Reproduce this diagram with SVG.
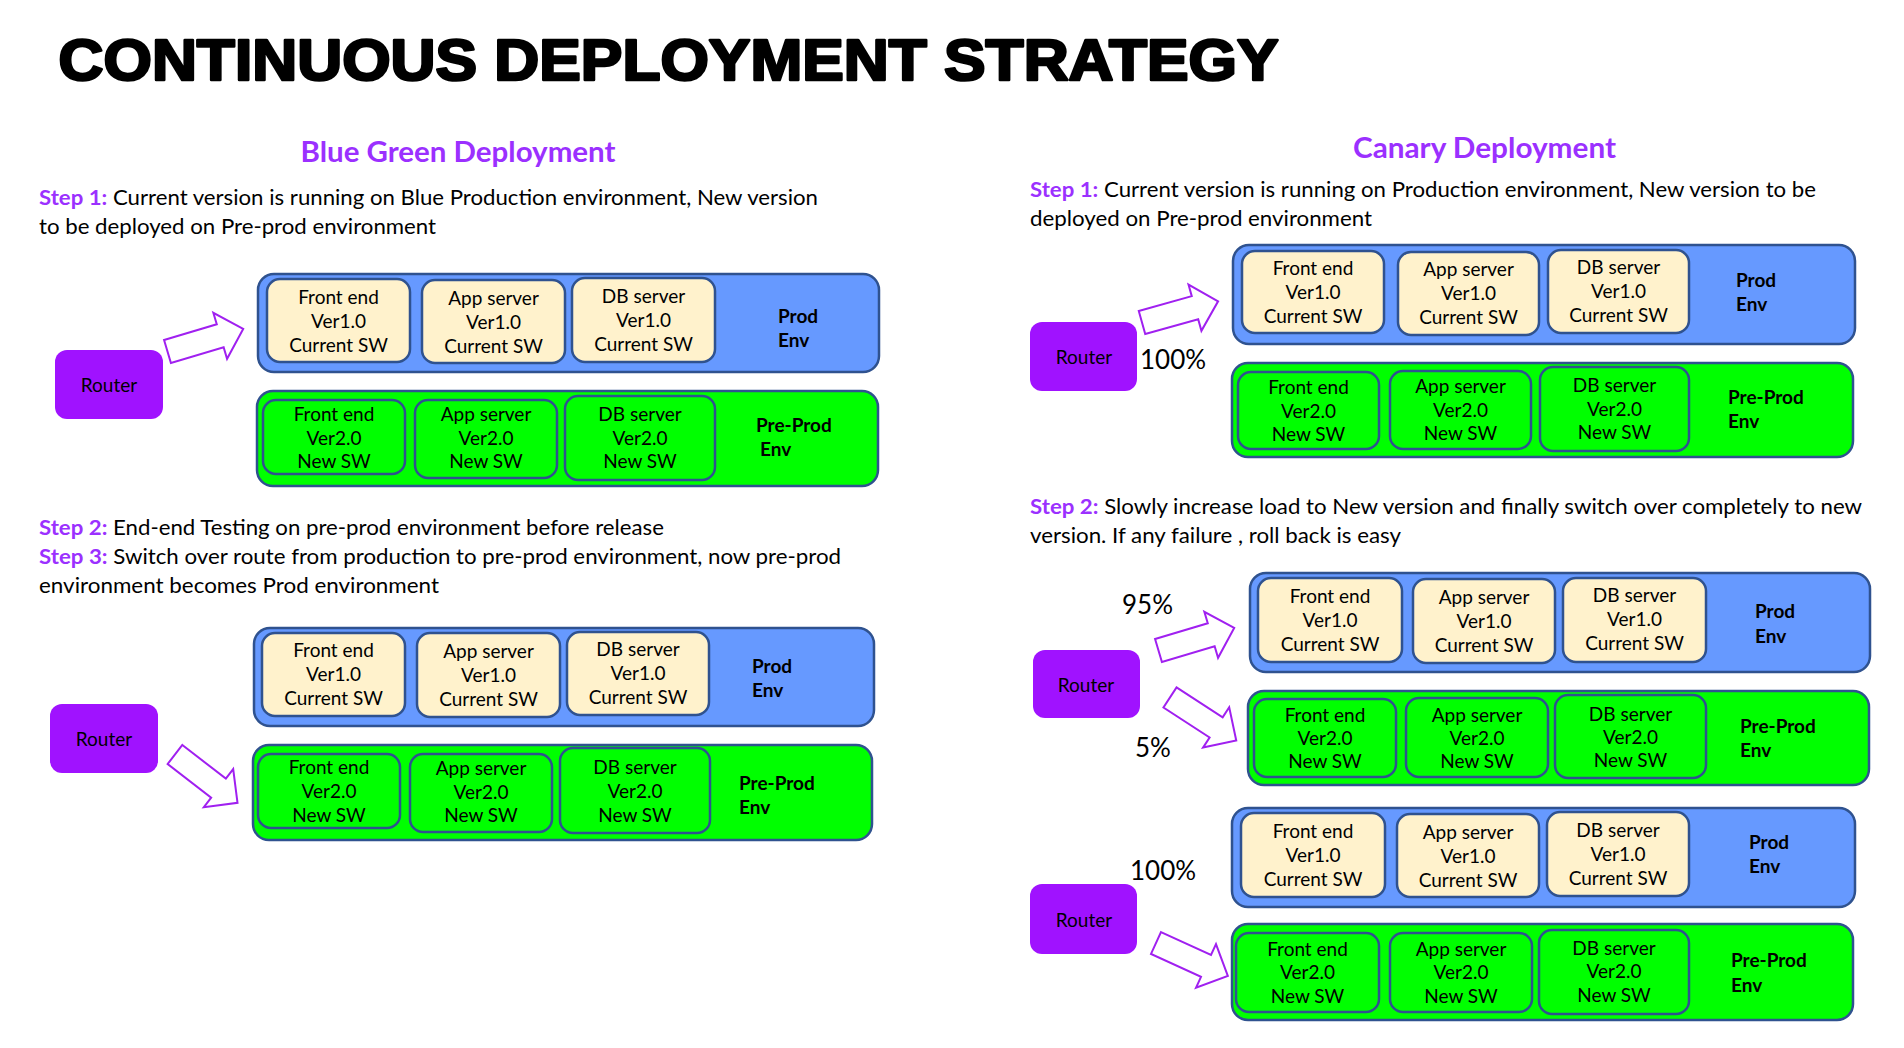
<svg xmlns="http://www.w3.org/2000/svg" xmlns:xlink="http://www.w3.org/1999/xlink" width="1904" height="1048" viewBox="0 0 1904 1048">
<style>
.env-b{fill:#6699FF;stroke:#2F528F;stroke-width:2.5}
.env-g{fill:#00FF00;stroke:#2F528F;stroke-width:2.5}
.sub-y{fill:#FFF2CC;stroke:#2F528F;stroke-width:2.5}
.sub-g{fill:#00FF00;stroke:#2F528F;stroke-width:2.5}
.router{fill:#A012FF}
.t{font-family:Lato,"Liberation Sans",sans-serif;font-size:19px;fill:#000;text-anchor:middle}
.lbl{font-family:Lato,"Liberation Sans",sans-serif;font-size:19px;font-weight:bold;fill:#000}
.body{font-family:Lato,"Liberation Sans",sans-serif;font-size:21px;fill:#000}
.step{fill:#9B30FF;font-weight:bold}
.head{font-family:Lato,"Liberation Sans",sans-serif;font-size:28px;font-weight:bold;fill:#9B30FF;text-anchor:middle}
.pct{font-family:Lato,"Liberation Sans",sans-serif;font-size:26px;fill:#000}
.arrow{fill:#FFFFFF;stroke:#A020F0;stroke-width:2;stroke-linejoin:miter}
.title{font-family:"Liberation Sans",Arial,sans-serif;font-size:58px;font-weight:bold;fill:#000;stroke:#000;stroke-width:2.6;stroke-linejoin:round}
</style>
<defs>
<path id="arrow" d="M0,-12 H55 V-24 L79,0 L55,24 V12 H0 Z"/>
</defs>
<rect width="1904" height="1048" fill="#FFFFFF"/>

<text class="title" x="58.5" y="80" textLength="1220" lengthAdjust="spacingAndGlyphs">CONTINUOUS DEPLOYMENT STRATEGY</text>

<!-- Blue Green texts -->
<text class="head" x="458" y="162" textLength="315" lengthAdjust="spacingAndGlyphs">Blue Green Deployment</text>
<text class="body" x="39" y="205" textLength="779" lengthAdjust="spacingAndGlyphs"><tspan class="step">Step 1:</tspan> Current version is running on Blue Production environment, New version</text>
<text class="body" x="39" y="234" textLength="397" lengthAdjust="spacingAndGlyphs">to be deployed on Pre-prod environment</text>
<text class="body" x="39" y="535" textLength="625" lengthAdjust="spacingAndGlyphs"><tspan class="step">Step 2:</tspan> End-end Testing on pre-prod environment before release</text>
<text class="body" x="39" y="564" textLength="802" lengthAdjust="spacingAndGlyphs"><tspan class="step">Step 3:</tspan> Switch over route from production to pre-prod environment, now pre-prod</text>
<text class="body" x="39" y="593" textLength="400" lengthAdjust="spacingAndGlyphs">environment becomes Prod environment</text>

<!-- Canary texts -->
<text class="head" x="1484.5" y="158" textLength="263" lengthAdjust="spacingAndGlyphs">Canary Deployment</text>
<text class="body" x="1030" y="197" textLength="786" lengthAdjust="spacingAndGlyphs"><tspan class="step">Step 1:</tspan> Current version is running on Production environment, New version to be</text>
<text class="body" x="1030" y="226" textLength="342" lengthAdjust="spacingAndGlyphs">deployed on Pre-prod environment</text>
<text class="body" x="1030" y="514" textLength="832" lengthAdjust="spacingAndGlyphs"><tspan class="step">Step 2:</tspan> Slowly increase load to New version and finally switch over completely to new</text>
<text class="body" x="1030" y="543" textLength="371" lengthAdjust="spacingAndGlyphs">version. If any failure , roll back is easy</text>

<text class="pct" x="1140" y="369">100%</text>
<text class="pct" x="1122" y="614">95%</text>
<text class="pct" x="1135" y="757">5%</text>
<text class="pct" x="1130" y="880">100%</text>

<!-- ===== Blue Green, step 1 ===== -->
<g id="bg1-router"><rect class="router" x="55" y="350" width="108" height="69" rx="12"/><text class="t" x="109" y="392">Router</text></g>
<g id="bg1-prod">
<rect class="env-b" x="258" y="274" width="621" height="98" rx="16"/>
<text class="lbl" x="778" y="323">Prod</text><text class="lbl" x="778" y="347">Env</text>
<g id="bg1-prod-fe"><rect class="sub-y" x="267" y="279" width="143" height="83" rx="13"/><text class="t"><tspan x="338.5" y="304">Front end</tspan><tspan x="338.5" y="328">Ver1.0</tspan><tspan x="338.5" y="352">Current SW</tspan></text></g>
<g id="bg1-prod-app"><rect class="sub-y" x="422" y="280" width="143" height="83" rx="13"/><text class="t"><tspan x="493.5" y="305">App server</tspan><tspan x="493.5" y="329">Ver1.0</tspan><tspan x="493.5" y="353">Current SW</tspan></text></g>
<g id="bg1-prod-db"><rect class="sub-y" x="572" y="278" width="143" height="84" rx="13"/><text class="t"><tspan x="643.5" y="303">DB server</tspan><tspan x="643.5" y="327">Ver1.0</tspan><tspan x="643.5" y="351">Current SW</tspan></text></g>
</g>
<g id="bg1-preprod">
<rect class="env-g" x="257" y="391" width="621" height="95" rx="16"/>
<text class="lbl" x="756" y="432">Pre-Prod</text><text class="lbl" x="760" y="456">Env</text>
<g id="bg1-pre-fe"><rect class="sub-g" x="263" y="400" width="142" height="74" rx="13"/><text class="t"><tspan x="334" y="421">Front end</tspan><tspan x="334" y="445">Ver2.0</tspan><tspan x="334" y="468">New SW</tspan></text></g>
<g id="bg1-pre-app"><rect class="sub-g" x="415" y="400" width="142" height="78" rx="13"/><text class="t"><tspan x="486" y="421">App server</tspan><tspan x="486" y="445">Ver2.0</tspan><tspan x="486" y="468">New SW</tspan></text></g>
<g id="bg1-pre-db"><rect class="sub-g" x="565" y="396" width="150" height="84" rx="13"/><text class="t"><tspan x="640" y="421">DB server</tspan><tspan x="640" y="445">Ver2.0</tspan><tspan x="640" y="468">New SW</tspan></text></g>
</g>

<!-- ===== Blue Green, step 3 ===== -->
<g id="bg2-router"><rect class="router" x="50" y="704" width="108" height="69" rx="12"/><text class="t" x="104" y="746">Router</text></g>
<g id="bg2-prod">
<rect class="env-b" x="254" y="628" width="620" height="98" rx="16"/>
<text class="lbl" x="752" y="673">Prod</text><text class="lbl" x="752" y="697">Env</text>
<g id="bg2-prod-fe"><rect class="sub-y" x="262" y="633" width="143" height="83" rx="13"/><text class="t"><tspan x="333.5" y="657">Front end</tspan><tspan x="333.5" y="681">Ver1.0</tspan><tspan x="333.5" y="705">Current SW</tspan></text></g>
<g id="bg2-prod-app"><rect class="sub-y" x="417" y="633" width="143" height="84" rx="13"/><text class="t"><tspan x="488.5" y="658">App server</tspan><tspan x="488.5" y="682">Ver1.0</tspan><tspan x="488.5" y="706">Current SW</tspan></text></g>
<g id="bg2-prod-db"><rect class="sub-y" x="567" y="632" width="142" height="83" rx="13"/><text class="t"><tspan x="638" y="656">DB server</tspan><tspan x="638" y="680">Ver1.0</tspan><tspan x="638" y="704">Current SW</tspan></text></g>
</g>
<g id="bg2-preprod">
<rect class="env-g" x="253" y="745" width="619" height="95" rx="16"/>
<text class="lbl" x="739" y="790">Pre-Prod</text><text class="lbl" x="739" y="814">Env</text>
<g id="bg2-pre-fe"><rect class="sub-g" x="258" y="754" width="142" height="74" rx="13"/><text class="t"><tspan x="329" y="774">Front end</tspan><tspan x="329" y="798">Ver2.0</tspan><tspan x="329" y="822">New SW</tspan></text></g>
<g id="bg2-pre-app"><rect class="sub-g" x="410" y="754" width="142" height="78" rx="13"/><text class="t"><tspan x="481" y="775">App server</tspan><tspan x="481" y="799">Ver2.0</tspan><tspan x="481" y="822">New SW</tspan></text></g>
<g id="bg2-pre-db"><rect class="sub-g" x="560" y="748" width="150" height="85" rx="13"/><text class="t"><tspan x="635" y="774">DB server</tspan><tspan x="635" y="798">Ver2.0</tspan><tspan x="635" y="822">New SW</tspan></text></g>
</g>

<!-- ===== Canary, step 1 ===== -->
<g id="c1-router"><rect class="router" x="1030" y="322" width="107" height="69" rx="12"/><text class="t" x="1084" y="364">Router</text></g>
<g id="c1-prod">
<rect class="env-b" x="1233" y="245" width="622" height="99" rx="16"/>
<text class="lbl" x="1736" y="287">Prod</text><text class="lbl" x="1736" y="311">Env</text>
<g id="c1-prod-fe"><rect class="sub-y" x="1242" y="251" width="142" height="82" rx="13"/><text class="t"><tspan x="1313" y="275">Front end</tspan><tspan x="1313" y="299">Ver1.0</tspan><tspan x="1313" y="323">Current SW</tspan></text></g>
<g id="c1-prod-app"><rect class="sub-y" x="1398" y="252" width="141" height="83" rx="13"/><text class="t"><tspan x="1468.5" y="276">App server</tspan><tspan x="1468.5" y="300">Ver1.0</tspan><tspan x="1468.5" y="324">Current SW</tspan></text></g>
<g id="c1-prod-db"><rect class="sub-y" x="1548" y="250" width="141" height="83" rx="13"/><text class="t"><tspan x="1618.5" y="274">DB server</tspan><tspan x="1618.5" y="298">Ver1.0</tspan><tspan x="1618.5" y="322">Current SW</tspan></text></g>
</g>
<g id="c1-preprod">
<rect class="env-g" x="1232" y="363" width="621" height="94" rx="16"/>
<text class="lbl" x="1728" y="404">Pre-Prod</text><text class="lbl" x="1728" y="428">Env</text>
<g id="c1-pre-fe"><rect class="sub-g" x="1238" y="372" width="141" height="77" rx="13"/><text class="t"><tspan x="1308.5" y="394">Front end</tspan><tspan x="1308.5" y="418">Ver2.0</tspan><tspan x="1308.5" y="441">New SW</tspan></text></g>
<g id="c1-pre-app"><rect class="sub-g" x="1390" y="371" width="141" height="78" rx="13"/><text class="t"><tspan x="1460.5" y="393">App server</tspan><tspan x="1460.5" y="417">Ver2.0</tspan><tspan x="1460.5" y="440">New SW</tspan></text></g>
<g id="c1-pre-db"><rect class="sub-g" x="1540" y="367" width="149" height="84" rx="13"/><text class="t"><tspan x="1614.5" y="392">DB server</tspan><tspan x="1614.5" y="416">Ver2.0</tspan><tspan x="1614.5" y="439">New SW</tspan></text></g>
</g>

<!-- ===== Canary, step 2 (95/5) ===== -->
<g id="c2-router"><rect class="router" x="1033" y="650" width="107" height="68" rx="12"/><text class="t" x="1086" y="692">Router</text></g>
<g id="c2-prod">
<rect class="env-b" x="1250" y="573" width="620" height="99" rx="16"/>
<text class="lbl" x="1755" y="618">Prod</text><text class="lbl" x="1755" y="643">Env</text>
<g id="c2-prod-fe"><rect class="sub-y" x="1258" y="578" width="144" height="84" rx="13"/><text class="t"><tspan x="1330" y="603">Front end</tspan><tspan x="1330" y="627">Ver1.0</tspan><tspan x="1330" y="651">Current SW</tspan></text></g>
<g id="c2-prod-app"><rect class="sub-y" x="1413" y="579" width="142" height="84" rx="13"/><text class="t"><tspan x="1484" y="604">App server</tspan><tspan x="1484" y="628">Ver1.0</tspan><tspan x="1484" y="652">Current SW</tspan></text></g>
<g id="c2-prod-db"><rect class="sub-y" x="1563" y="578" width="143" height="84" rx="13"/><text class="t"><tspan x="1634.5" y="602">DB server</tspan><tspan x="1634.5" y="626">Ver1.0</tspan><tspan x="1634.5" y="650">Current SW</tspan></text></g>
</g>
<g id="c2-preprod">
<rect class="env-g" x="1248" y="691" width="621" height="94" rx="16"/>
<text class="lbl" x="1740" y="733">Pre-Prod</text><text class="lbl" x="1740" y="757">Env</text>
<g id="c2-pre-fe"><rect class="sub-g" x="1254" y="699" width="142" height="78" rx="13"/><text class="t"><tspan x="1325" y="722">Front end</tspan><tspan x="1325" y="745">Ver2.0</tspan><tspan x="1325" y="768">New SW</tspan></text></g>
<g id="c2-pre-app"><rect class="sub-g" x="1406" y="698" width="142" height="79" rx="13"/><text class="t"><tspan x="1477" y="722">App server</tspan><tspan x="1477" y="745">Ver2.0</tspan><tspan x="1477" y="768">New SW</tspan></text></g>
<g id="c2-pre-db"><rect class="sub-g" x="1555" y="695" width="151" height="83" rx="13"/><text class="t"><tspan x="1630.5" y="721">DB server</tspan><tspan x="1630.5" y="744">Ver2.0</tspan><tspan x="1630.5" y="767">New SW</tspan></text></g>
</g>

<!-- ===== Canary, step 2 (100% new) ===== -->
<g id="c3-router"><rect class="router" x="1030" y="884" width="107" height="70" rx="12"/><text class="t" x="1084" y="927">Router</text></g>
<g id="c3-prod">
<rect class="env-b" x="1232" y="808" width="623" height="99" rx="16"/>
<text class="lbl" x="1749" y="849">Prod</text><text class="lbl" x="1749" y="873">Env</text>
<g id="c3-prod-fe"><rect class="sub-y" x="1241" y="813" width="144" height="84" rx="13"/><text class="t"><tspan x="1313" y="838">Front end</tspan><tspan x="1313" y="862">Ver1.0</tspan><tspan x="1313" y="886">Current SW</tspan></text></g>
<g id="c3-prod-app"><rect class="sub-y" x="1397" y="814" width="142" height="83" rx="13"/><text class="t"><tspan x="1468" y="839">App server</tspan><tspan x="1468" y="863">Ver1.0</tspan><tspan x="1468" y="887">Current SW</tspan></text></g>
<g id="c3-prod-db"><rect class="sub-y" x="1547" y="812" width="142" height="84" rx="13"/><text class="t"><tspan x="1618" y="837">DB server</tspan><tspan x="1618" y="861">Ver1.0</tspan><tspan x="1618" y="885">Current SW</tspan></text></g>
</g>
<g id="c3-preprod">
<rect class="env-g" x="1232" y="924" width="621" height="96" rx="16"/>
<text class="lbl" x="1731" y="967">Pre-Prod</text><text class="lbl" x="1731" y="992">Env</text>
<g id="c3-pre-fe"><rect class="sub-g" x="1236" y="933" width="143" height="79" rx="13"/><text class="t"><tspan x="1307.5" y="956">Front end</tspan><tspan x="1307.5" y="979">Ver2.0</tspan><tspan x="1307.5" y="1003">New SW</tspan></text></g>
<g id="c3-pre-app"><rect class="sub-g" x="1390" y="933" width="142" height="79" rx="13"/><text class="t"><tspan x="1461" y="956">App server</tspan><tspan x="1461" y="979">Ver2.0</tspan><tspan x="1461" y="1003">New SW</tspan></text></g>
<g id="c3-pre-db"><rect class="sub-g" x="1539" y="930" width="150" height="84" rx="13"/><text class="t"><tspan x="1614" y="955">DB server</tspan><tspan x="1614" y="978">Ver2.0</tspan><tspan x="1614" y="1002">New SW</tspan></text></g>
</g>

<!-- connectors: block arrows -->
<g id="connectors">
<use xlink:href="#arrow" class="arrow" transform="translate(167.5,351.5) rotate(-16.6)"/>
<use xlink:href="#arrow" class="arrow" transform="translate(175,754.5) rotate(37.7)"/>
<use xlink:href="#arrow" class="arrow" transform="translate(1142,322.5) rotate(-15.6)"/>
<use xlink:href="#arrow" class="arrow" transform="translate(1158.5,650.5) rotate(-16.6)"/>
<use xlink:href="#arrow" class="arrow" transform="translate(1170,697.5) rotate(33)"/>
<use xlink:href="#arrow" class="arrow" transform="translate(1156,943) rotate(24.6)"/>
</g>
</svg>
